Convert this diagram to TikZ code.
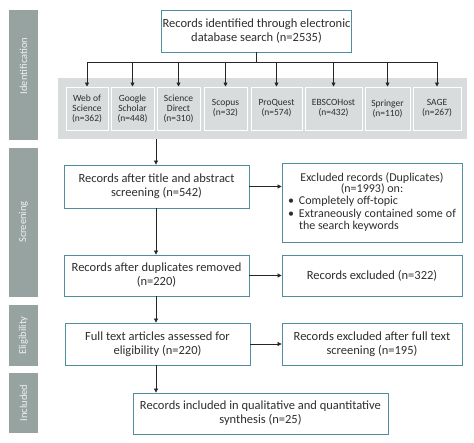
\documentclass[tikz,border=0pt]{standalone}
\usepackage{fontspec}
\setmainfont{Carlito}
\usetikzlibrary{arrows.meta}
\definecolor{sidebar}{HTML}{97A3A1}
\definecolor{band}{HTML}{D8DCDC}
\definecolor{boxline}{HTML}{4F8E9C}
\definecolor{txt}{HTML}{2E2E2E}
\tikzset{
  sidebox/.style={fill=sidebar, draw=none},
  sidelabel/.style={text=white!85!sidebar, rotate=90, font=\fontsize{10.5}{12}\selectfont},
  mainbox/.style={draw=boxline, line width=0.8pt, fill=white, align=center, text=txt, font=\fontsize{12.5}{14}\selectfont},
  dbbox/.style={draw=white, line width=1pt, fill=band, align=center, text=txt, font=\fontsize{9.5}{10}\selectfont},
  conn/.style={draw=black!85, line width=0.7pt},
  arr/.style={conn, -{Triangle[length=4pt,width=4pt]}},
}
\begin{document}
\begin{tikzpicture}[x=1pt,y=-1pt]
\useasboundingbox (0,0) rectangle (474,442);
\fill[white] (0,0) rectangle (474,442);
% side bars
\fill[sidebox] (9,10) rectangle (38,140);
\node[sidelabel] (lid) at (23.5,66) {Identification};
\fill[sidebox] (9,148) rectangle (38,297);
\node[sidelabel] (lsc) at (23.5,222) {Screening};
\fill[sidebox] (9,305) rectangle (38,366);
\node[sidelabel] (lel) at (23.5,335.5) {Eligibility};
\fill[sidebox] (9,373) rectangle (38,433);
\node[sidelabel] (lin) at (23.5,403) {Included};
% band
\node[fill=band, minimum width=409, minimum height=61, inner sep=0] (band) at (262.5,108.5) {};
% top box
\node[mainbox, minimum width=187, minimum height=42, inner sep=1pt] (top) at (256.5,31) {Records identified through electronic\\database search (n=2535)};
% db boxes
\def\dby{108.5}
\node[dbbox, minimum width=42, minimum height=43, inner sep=0] (d1) at (87,\dby) {Web of\\Science\\(n=362)};
\node[dbbox, minimum width=43, minimum height=43, inner sep=0] (d2) at (132.5,\dby) {Google\\Scholar\\(n=448)};
\node[dbbox, minimum width=43, minimum height=43, inner sep=0] (d3) at (178.5,\dby) {Science\\Direct\\(n=310)};
\node[dbbox, minimum width=43, minimum height=43, inner sep=0] (d4) at (225.5,\dby) {Scopus\\(n=32)};
\node[dbbox, minimum width=51, minimum height=43, inner sep=0] (d5) at (276.5,\dby) {ProQuest\\(n=574)};
\node[dbbox, minimum width=57, minimum height=43, inner sep=0] (d6) at (333.5,\dby) {EBSCOHost\\(n=432)};
\node[dbbox, minimum width=45, minimum height=43, inner sep=0] (d7) at (387.5,\dby) {Springer\\(n=110)};
\node[dbbox, minimum width=48, minimum height=43, inner sep=0] (d8) at (437,\dby) {SAGE\\(n=267)};
% main flow
\node[mainbox, minimum width=185, minimum height=43, inner sep=1pt] (s1) at (156.5,186.5) {Records after title and abstract\\screening (n=542)};
\node[mainbox, minimum width=180, minimum height=79, inner sep=1pt, font=\fontsize{12}{11.5}\selectfont] (x1) at (372,202.5) {Excluded records (Duplicates)\\(n=1993) on:\\[1pt]
\begin{tabular}{@{}p{8pt}@{\hspace{3pt}}p{157pt}@{}}
\textbullet & Completely off-topic\\[1pt]
\textbullet & Extraneously contained some of the search keywords
\end{tabular}};
\node[mainbox, minimum width=185, minimum height=41, inner sep=1pt] (s2) at (156.5,275.5) {Records after duplicates removed\\(n=220)};
\node[mainbox, minimum width=180, minimum height=41, inner sep=1pt] (x2) at (372,275.5) {Records excluded (n=322)};
\node[mainbox, minimum width=185, minimum height=42, inner sep=1pt] (e1) at (157.5,344) {Full text articles assessed for\\eligibility (n=220)};
\node[mainbox, minimum width=180, minimum height=42, inner sep=1pt] (x3) at (372,344) {Records excluded after full text\\screening (n=195)};
\node[mainbox, minimum width=255, minimum height=41, inner sep=1pt] (inc) at (260.5,413.5) {Records included in qualitative and quantitative\\synthesis (n=25)};
% connectors
\coordinate (hb) at (top.south |- 0,62);
\draw[conn] (top.south) -- (hb);
\draw[conn] (hb -| d1.north) -- (hb -| d8.north);
\foreach \d in {d1,d2,d3,d4,d5,d6,d7,d8}{
  \draw[arr] (hb -| \d.north) -- (\d.north);
}
\coordinate (bb) at (156,139);
\draw[arr] (bb) -- (bb |- s1.north);
\draw[arr] (s1.east) -- (s1.east -| x1.west);
\draw[arr] (s1.south -| bb) -- (s2.north -| bb);
\draw[arr] (s2.east) -- (x2.west);
\draw[arr] (s2.south -| bb) -- (e1.north -| bb);
\draw[arr] (e1.east) -- (x3.west);
\draw[arr] (e1.south -| bb) -- (inc.north -| bb);
\end{tikzpicture}
\end{document}
